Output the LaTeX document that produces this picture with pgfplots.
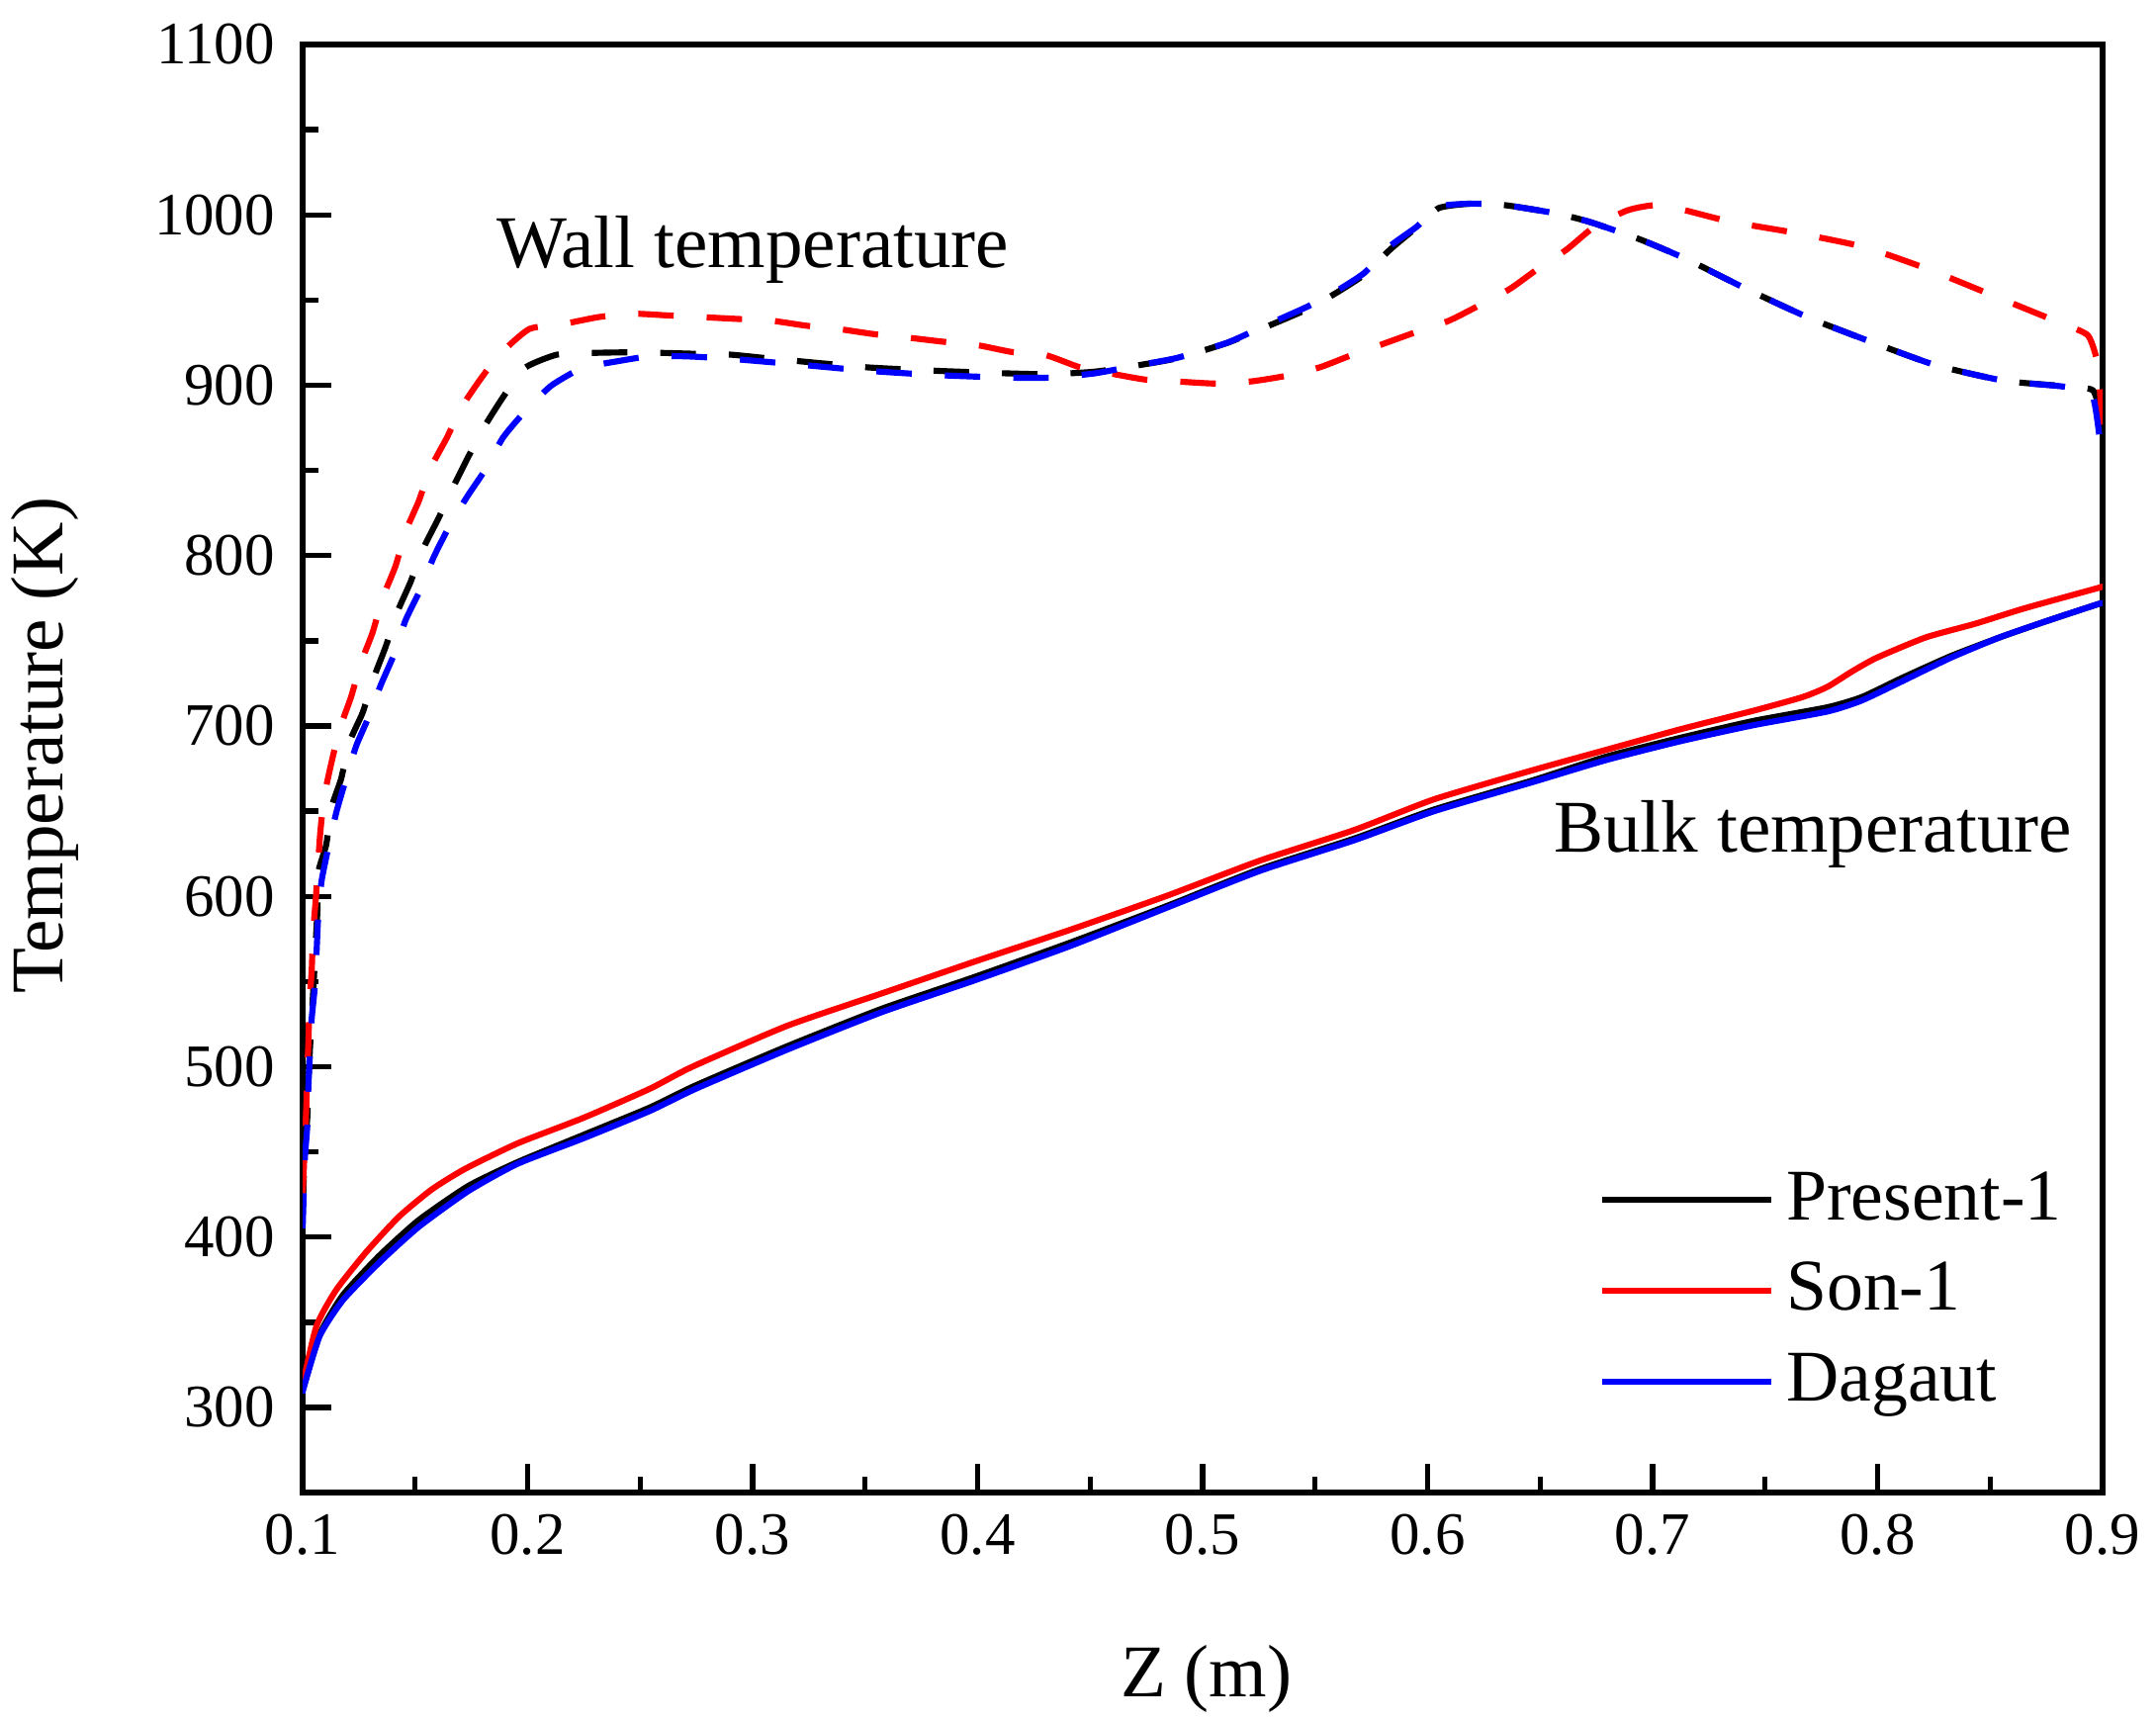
\documentclass[border=0pt]{standalone}
\usepackage{fontspec}
\setmainfont{Liberation Serif}
\usepackage{pgfplots}
\pgfplotsset{compat=1.18}

\begin{document}
\begin{tikzpicture}
\begin{axis}[
  scale only axis,
  width=13.024cm, height=10.477cm,
  xmin=0.1, xmax=0.9, ymin=250, ymax=1100,
  xtick={0.1,0.2,0.3,0.4,0.5,0.6,0.7,0.8,0.9},
  ytick={300,400,500,600,700,800,900,1000,1100},
  minor x tick num=1, minor y tick num=1,
  xtick pos=bottom, ytick pos=left,
  tick align=inside,
  major tick length=5.9pt, minor tick length=3.2pt,
  every tick/.style={black, line width=1.1pt},
  axis line style={line width=1.15pt},
  tick label style={font=\fontsize{12.4}{14}\selectfont,
    /pgf/number format/assume math mode=true},
  xticklabel style={/pgf/number format/fixed, /pgf/number format/precision=1,
    /pgf/number format/fixed zerofill, yshift=-1pt},
  yticklabel style={/pgf/number format/1000 sep={}, xshift=-2.2pt},
  xlabel={Z (m)},
  ylabel={Temperature (K)},
  xlabel style={at={(axis description cs:0.502,-0.1407)}, anchor=base,
    font=\fontsize{15.3}{18}\selectfont},
  ylabel style={at={(axis description cs:-0.1335,0.516)}, anchor=base,
    rotate=0, font=\fontsize{15.3}{18}\selectfont},
  legend cell align=left,
  legend image code/.code={\draw[#1] (0pt,0pt) -- (35pt,0pt);},
  legend style={draw=none, fill=none, at={(axis description cs:0.7195,0.2295)},
    anchor=north west, inner sep=0pt, row sep=2.7pt,
    font=\fontsize{15}{18}\selectfont,
    nodes={inner xsep=2.4pt, inner ysep=1pt, text height=11pt, text depth=3pt}},
  every axis plot/.append style={line width=1.25pt, smooth, tension=0.35},
]

% wall temperature (dashed)
\addplot[black, dash pattern=on 7.3pt off 6.8pt, forget plot] coordinates {
(0.1000,415) (0.1005,435) (0.1010,452) (0.1021,471) (0.1026,492) (0.1033,512)
(0.1042,533) (0.1050,552) (0.1058,573) (0.1066,593) (0.1069,614) (0.1105,630.5)
(0.1127,651.7) (0.1171,669) (0.1208,690.5) (0.1267,708) (0.1318,729) (0.1369,746.6)
(0.1421,767) (0.1479,784.4) (0.1538,804.7) (0.1604,822) (0.1670,840.5) (0.1736,858)
(0.1809,876) (0.1889,892.7) (0.1985,910) (0.2131,918) (0.2292,919) (0.2432,919.3)
(0.2600,919) (0.2739,918.5) (0.2900,918) (0.3054,916) (0.3217,914) (0.3511,910.5)
(0.3815,908.5) (0.4129,907) (0.4325,906.5) (0.4521,908) (0.4698,911.4) (0.4884,915.8)
(0.5110,924.9) (0.5277,934) (0.5463,944.5) (0.5591,954) (0.5719,965) (0.5836,980)
(0.5951,992.7) (0.6049,1004) (0.6192,1006.6) (0.6345,1005.7) (0.6574,1000.8)
(0.6727,995.6) (0.6946,985.5) (0.7153,973.9) (0.7416,956.6) (0.7700,939.3)
(0.7985,924.8) (0.8258,911.8) (0.8564,902.6) (0.8837,899.4) (0.8957,897)
(0.8990,882) (0.9000,866)
};
\addplot[red, dash pattern=on 7.3pt off 6.8pt, forget plot] coordinates {
(0.1000,425) (0.1005,440) (0.1010,456) (0.1016,476) (0.1020,497) (0.1026,516)
(0.1030,538) (0.1040,556) (0.1046,578) (0.1058,598) (0.1068,618) (0.1078,637)
(0.1095,658) (0.1127,678) (0.1164,698) (0.1215,717) (0.1259,737) (0.1311,755)
(0.1355,775) (0.1413,794) (0.1457,814) (0.1516,832) (0.1567,851) (0.1640,869)
(0.1706,887) (0.1787,903) (0.1875,918) (0.2007,933) (0.2160,936) (0.2314,940)
(0.2468,942) (0.2622,941) (0.2776,940) (0.2922,939) (0.3079,938) (0.3236,935)
(0.3383,933) (0.3540,930) (0.3688,928) (0.3844,925.6) (0.4001,923.5) (0.4149,919.6)
(0.4305,917.6) (0.4453,910.6) (0.4600,906.7) (0.4747,903.3) (0.4914,902) (0.5061,901)
(0.5218,902.3) (0.5365,905.4) (0.5522,910.6) (0.5660,917.6) (0.5807,924.5)
(0.5954,931.5) (0.6093,937.8) (0.6224,946.5) (0.6366,956.6) (0.6487,968.1)
(0.6618,979.7) (0.6738,992.7) (0.6891,1002.8) (0.7044,1005.7) (0.7339,996.2)
(0.7646,989.2) (0.7941,981.1) (0.8225,968.1) (0.8520,952.3) (0.8815,936.4)
(0.8935,929.2) (0.8979,911.8) (0.8995,880) (0.9000,868.5)
};
\addplot[blue, dash pattern=on 7.3pt off 6.8pt, forget plot] coordinates {
(0.1000,405) (0.1005,428) (0.1010,447) (0.1021,466) (0.1025,487) (0.1032,507)
(0.1040,528) (0.1054,547) (0.1062,568) (0.1069,588) (0.1084,609) (0.1113,628)
(0.1149,649) (0.1186,666) (0.1237,688) (0.1289,704) (0.1347,724) (0.1406,742)
(0.1457,762) (0.1523,780) (0.1582,799) (0.1647,816) (0.1728,834) (0.1809,850)
(0.1889,869) (0.1977,883) (0.2102,899.5) (0.2241,910) (0.2395,914) (0.2542,917)
(0.2700,917) (0.2849,916) (0.2952,915) (0.3217,912) (0.3511,908.5) (0.3815,906)
(0.4129,904.5) (0.4325,904.5) (0.4521,907) (0.4698,911.4) (0.4884,916) (0.5110,925)
(0.5277,935) (0.5463,946) (0.5591,955) (0.5719,966) (0.5836,982) (0.5951,993)
(0.6049,1004.8) (0.6192,1006.6) (0.6345,1005.7) (0.6574,1000.8) (0.6727,995.6)
(0.6946,985.5) (0.7153,973.9) (0.7416,956.6) (0.7700,939.3) (0.7985,924.8)
(0.8258,911.8) (0.8564,902.6) (0.8837,899) (0.8957,893) (0.9000,853)
};

% bulk temperature (solid)
\addplot[black] coordinates {
(0.1000,310) (0.1076,343) (0.1179,366) (0.1340,389) (0.1516,410) (0.1736,430)
(0.1955,444) (0.2248,460) (0.2542,476) (0.2746,489) (0.3153,512) (0.3573,534)
(0.3993,553) (0.4414,573) (0.4834,594) (0.5255,616) (0.5675,634) (0.6029,651)
(0.6465,668) (0.6793,682) (0.7121,693) (0.7449,703) (0.7777,711) (0.7930,717)
(0.8105,728) (0.8324,741) (0.8542,752) (0.8760,762) (0.8979,771.5) (0.9000,772)
};
\addlegendentry{Present-1}
\addplot[red] coordinates {
(0.1000,310) (0.1003,315) (0.1062,348) (0.1149,369) (0.1281,391) (0.1428,412)
(0.1574,428) (0.1721,440) (0.1955,455) (0.2248,470) (0.2542,487) (0.2732,500)
(0.3153,524) (0.3573,543) (0.3993,562) (0.4414,580.5) (0.4834,600) (0.5255,621)
(0.5675,639) (0.6029,657) (0.6465,674) (0.6793,686) (0.7121,698) (0.7449,709)
(0.7667,717) (0.7777,723) (0.7886,732) (0.7995,740) (0.8214,752) (0.8433,760)
(0.8651,769) (0.8979,781) (0.9000,782)
};
\addlegendentry{Son-1}
\addplot[blue] coordinates {
(0.1000,308) (0.1003,311) (0.1076,342) (0.1179,363) (0.1340,385) (0.1516,406)
(0.1736,427) (0.1955,443) (0.2248,458) (0.2542,474) (0.2746,487) (0.3153,510)
(0.3573,532) (0.3993,551) (0.4414,571) (0.4834,593) (0.5255,615) (0.5675,633)
(0.6029,650) (0.6465,667) (0.6793,680) (0.7121,691) (0.7449,700.5) (0.7777,708.5)
(0.7930,715) (0.8105,726) (0.8324,740) (0.8542,752) (0.8760,762) (0.8979,771.5)
(0.9000,772)
};
\addlegendentry{Dagaut}

\node[anchor=base west, inner sep=0pt, font=\fontsize{15.3}{18}\selectfont]
  at (axis cs:0.186,969) {Wall temperature};
\node[anchor=base east, inner sep=0pt, font=\fontsize{15.3}{18}\selectfont]
  at (axis cs:0.8868,626) {Bulk temperature};
\end{axis}
\pgfresetboundingbox
\useasboundingbox (-2.190cm,-1.653cm) rectangle (13.410cm,10.799cm);
\end{tikzpicture}
\end{document}
